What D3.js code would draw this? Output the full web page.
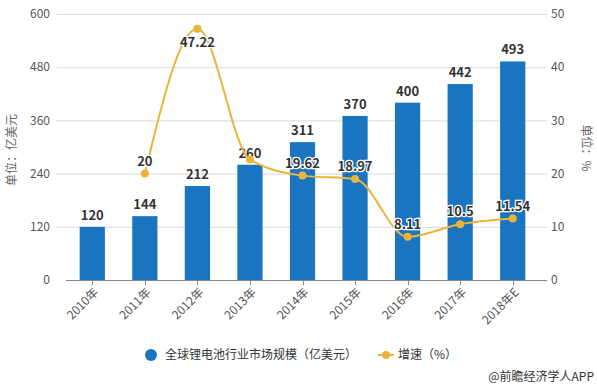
<!DOCTYPE html>
<html>
<head>
<meta charset="utf-8">
<script src="https://cdn.jsdelivr.net/npm/d3@7"></script>
<style>
  body { margin: 0; background: #fff; }
  svg { display: block; font-family: "Noto Sans CJK SC", "Noto Sans", sans-serif; }
</style>
</head>
<body>
<svg></svg>
<script>
'use strict'

const years = ['2010年', '2011年', '2012年', '2013年', '2014年', '2015年', '2016年', '2017年', '2018年E']
const marketSize = [120, 144, 212, 260, 311, 370, 400, 442, 493]
const growth = [null, 20, 47.22, 22.64, 19.62, 18.97, 8.11, 10.5, 11.54]
const growthLabels = ['', '20', '47.22', '', '19.62', '18.97', '8.11', '10.5', '11.54']
const leftTicks = [0, 120, 240, 360, 480, 600]
const rightTicks = [0, 10, 20, 30, 40, 50]

const width = 597,
  height = 392

const plot = { left: 66, right: 539, top: 14, bottom: 280 }

const barColor = '#1a75c1'
const lineColor = '#e8b53a'

const svg = d3.select('svg')
  .attr('width', width)
  .attr('height', height)

const x = d3.scaleBand()
  .domain(years)
  .range([plot.left, plot.right])
  .padding(0)

const yLeft = d3.scaleLinear()
  .domain([0, 600])
  .range([plot.bottom, plot.top])

const yRight = d3.scaleLinear()
  .domain([0, 50])
  .range([plot.bottom, plot.top])

// grid lines
svg.append('g')
  .selectAll('line')
  .data(leftTicks.slice(1))
  .enter()
  .append('line')
  .attr('x1', 56)
  .attr('x2', 547)
  .attr('y1', d => yLeft(d) + 0.5)
  .attr('y2', d => yLeft(d) + 0.5)
  .attr('stroke', '#d9d9d9')
  .attr('stroke-width', 1)

// left axis labels
svg.append('g')
  .selectAll('text')
  .data(leftTicks)
  .enter()
  .append('text')
  .attr('x', 50)
  .attr('y', d => yLeft(d))
  .attr('dy', '0.35em')
  .attr('text-anchor', 'end')
  .attr('font-size', 12)
  .attr('fill', '#555')
  .text(d => d)

// right axis labels
svg.append('g')
  .selectAll('text')
  .data(rightTicks)
  .enter()
  .append('text')
  .attr('x', 551)
  .attr('y', d => yRight(d))
  .attr('dy', '0.35em')
  .attr('text-anchor', 'start')
  .attr('font-size', 12)
  .attr('fill', '#555')
  .text(d => d)

// axis titles
svg.append('text')
  .attr('transform', 'translate(16,150) rotate(-90)')
  .attr('text-anchor', 'middle')
  .attr('font-size', 12)
  .attr('fill', '#666')
  .text('单位：亿美元')

svg.append('text')
  .attr('transform', 'translate(582,148) rotate(90)')
  .attr('text-anchor', 'middle')
  .attr('font-size', 12)
  .attr('fill', '#666')
  .text('单位：%')

// bars
const barW = x.bandwidth() * 0.48
svg.append('g')
  .selectAll('rect')
  .data(marketSize)
  .enter()
  .append('rect')
  .attr('x', (d, i) => x(years[i]) + (x.bandwidth() - barW) / 2)
  .attr('y', d => yLeft(d))
  .attr('width', barW)
  .attr('height', d => yLeft(0) - yLeft(d))
  .attr('fill', barColor)

// x axis
svg.append('line')
  .attr('x1', plot.left)
  .attr('x2', 547)
  .attr('y1', plot.bottom + 0.5)
  .attr('y2', plot.bottom + 0.5)
  .attr('stroke', '#888')

const cx = d => x(d) + x.bandwidth() / 2

svg.append('g')
  .selectAll('line')
  .data(years)
  .enter()
  .append('line')
  .attr('x1', d => Math.round(cx(d)) + 0.5)
  .attr('x2', d => Math.round(cx(d)) + 0.5)
  .attr('y1', plot.bottom)
  .attr('y2', plot.bottom + 5)
  .attr('stroke', '#888')

svg.append('g')
  .selectAll('text')
  .data(years)
  .enter()
  .append('text')
  .attr('transform', d => 'translate(' + (cx(d) + 4) + ',' + (plot.bottom + 10) + ') rotate(-45)')
  .attr('text-anchor', 'end')
  .attr('dy', '0.35em')
  .attr('font-size', 12)
  .attr('fill', '#555')
  .text(d => d)

// bar value labels
svg.append('g')
  .selectAll('text')
  .data(marketSize)
  .enter()
  .append('text')
  .attr('x', (d, i) => cx(years[i]))
  .attr('y', d => yLeft(d) - 7)
  .attr('text-anchor', 'middle')
  .attr('font-size', 13)
  .attr('font-weight', 'bold')
  .attr('fill', '#333')
  .text(d => d)

// growth line
const points = years
  .map((yr, i) => ({ yr: yr, v: growth[i], label: growthLabels[i] }))
  .filter(p => p.v !== null)

const line = d3.line()
  .x(d => cx(d.yr))
  .y(d => yRight(d.v))
  .curve(d3.curveMonotoneX)

svg.append('path')
  .datum(points)
  .attr('d', line)
  .attr('fill', 'none')
  .attr('stroke', lineColor)
  .attr('stroke-width', 2)

svg.append('g')
  .selectAll('circle')
  .data(points)
  .enter()
  .append('circle')
  .attr('cx', d => cx(d.yr))
  .attr('cy', d => yRight(d.v))
  .attr('r', 4)
  .attr('fill', lineColor)

svg.append('g')
  .selectAll('text')
  .data(points.filter(p => p.label))
  .enter()
  .append('text')
  .attr('x', d => cx(d.yr))
  .attr('y', d => d.v > 45 ? yRight(d.v) + 18 : yRight(d.v) - 8)
  .attr('text-anchor', 'middle')
  .attr('font-size', 13)
  .attr('font-weight', 'bold')
  .attr('fill', '#333')
  .attr('stroke', '#fff')
  .attr('stroke-width', 2.5)
  .attr('paint-order', 'stroke')
  .text(d => d.label)

// legend
const legend = svg.append('g')

legend.append('circle')
  .attr('cx', 151)
  .attr('cy', 355)
  .attr('r', 6)
  .attr('fill', barColor)

legend.append('text')
  .attr('x', 165)
  .attr('y', 355)
  .attr('dy', '0.35em')
  .attr('font-size', 12)
  .attr('fill', '#333')
  .text('全球锂电池行业市场规模（亿美元）')

legend.append('line')
  .attr('x1', 378)
  .attr('x2', 394)
  .attr('y1', 355)
  .attr('y2', 355)
  .attr('stroke', lineColor)
  .attr('stroke-width', 2)

legend.append('circle')
  .attr('cx', 386)
  .attr('cy', 355)
  .attr('r', 4)
  .attr('fill', lineColor)

legend.append('text')
  .attr('x', 398)
  .attr('y', 355)
  .attr('dy', '0.35em')
  .attr('font-size', 12)
  .attr('fill', '#333')
  .text('增速（%）')

svg.append('text')
  .attr('x', 594)
  .attr('y', 381)
  .attr('text-anchor', 'end')
  .attr('font-size', 12)
  .attr('fill', '#333')
  .text('@前瞻经济学人APP')
</script>
</body>
</html>
